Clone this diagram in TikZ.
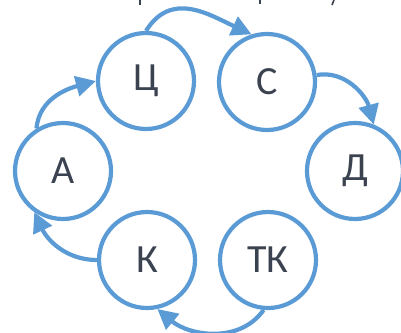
\documentclass[tikz,border=0pt]{standalone}
\usepackage{fontspec}
\setmainfont{Carlito}
\usetikzlibrary{arrows.meta}
\definecolor{ringblue}{HTML}{5B9BD5}
\definecolor{labelgray}{HTML}{3B4250}
\tikzset{
  stage/.style={circle, draw=ringblue, line width=4.2pt, minimum size=96pt,
    inner sep=0pt, text=labelgray, font=\fontsize{40}{40}\selectfont},
  flow/.style={draw=ringblue, line width=4.2pt,
    -{Triangle[length=20pt,width=20pt]}},
  tick/.style={draw=labelgray, line width=1.6pt}
}
\begin{document}
\begin{tikzpicture}[x=1pt,y=1pt]
  \useasboundingbox (0,0) rectangle (401,-332);
  % stages of the cycle
  \node[stage] (c)  at (146,-81)  {Ц};
  \node[stage] (s)  at (267,-82)  {С};
  \node[stage] (d)  at (355,-171) {Д};
  \node[stage] (tk) at (268,-260) {ТК};
  \node[stage] (k)  at (147,-260) {К};
  \node[stage] (a)  at (63,-171)  {А};
  % transitions between stages
  \draw[flow] (c.90) to[out=58,in=155,looseness=1.15] (s.108);
  \draw[flow] (s.8) to[out=10,in=105] (d.68);
  \draw[flow] (tk.-95) to[out=-125,in=-40] (k.-78);
  \draw[flow] (k.180) to[out=180,in=-65] (a.-125);
  \draw[flow] (a.122) to[out=85,in=195] (c.180);
  % descenders of the heading line above
  \coordinate (t1) at (140,0);
  \coordinate (t2) at (260,0);
  \coordinate (t3) at (334,0);
  \draw[tick] (t1) -- ++(0,-5);
  \draw[tick] (t2) -- ++(0,-4);
  \draw[tick] (t3) -- ++(-2,-5);
\end{tikzpicture}
\end{document}
